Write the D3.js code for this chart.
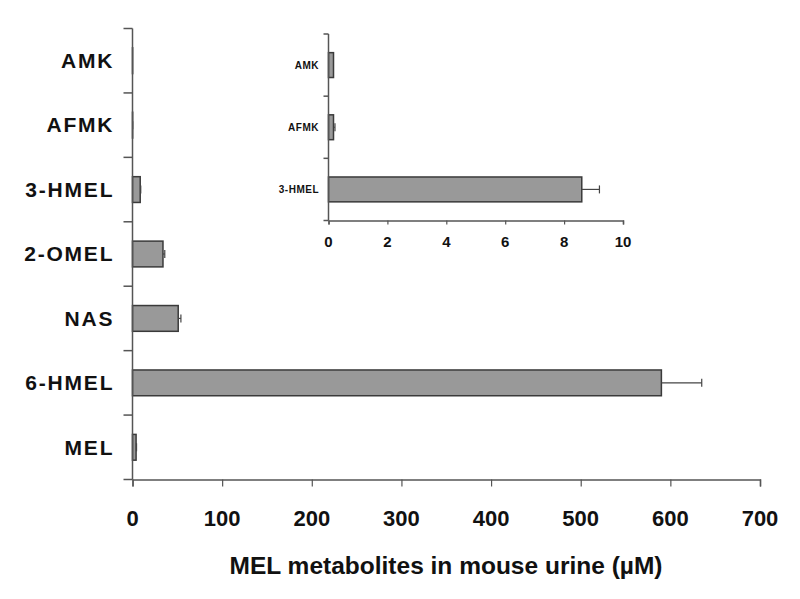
<!DOCTYPE html>
<html>
<head>
<meta charset="utf-8">
<script src="https://cdn.jsdelivr.net/npm/d3@7"></script>
<style>
  body { margin: 0; background: #fff; }
  svg { display: block; font-family: 'Liberation Sans', Arial, sans-serif; }
</style>
</head>
<body>
<div id="chart"></div>
<script>
// Main chart data (top to bottom)
const categories = ['AMK', 'AFMK', '3-HMEL', '2-OMEL', 'NAS', '6-HMEL', 'MEL']
const values = [0.17, 0.17, 8.6, 34, 51, 590, 4]
const errors = [0, 0.05, 0.6, 2, 3, 45, 0.5]
const xTicks = [0, 100, 200, 300, 400, 500, 600, 700]

// Inset data
const insetCategories = ['AMK', 'AFMK', '3-HMEL']
const insetValues = [0.17, 0.17, 8.6]
const insetErrors = [0, 0.05, 0.6]
const insetTicks = [0, 2, 4, 6, 8, 10]

const width = 800
const height = 599
const axisColor = '#555'
const barFill = '#999'
const barStroke = '#3a3a3a'

const svg = d3.select('#chart')
  .append('svg')
  .attr('width', width)
  .attr('height', height)

function drawPanel(opts) {
  const { cats, vals, errs, ticks, x, top, bottom, labelSize, labelSpacing, tickLabelSize, labelGap, tickLabelY, sepTick } = opts
  const g = svg.append('g')

  const y = d3.scaleBand()
    .domain(cats)
    .range([top, bottom])
    .paddingInner(0.6)
    .paddingOuter(0.3)

  const step = y.step()
  const x0 = x(0)

  // Separator ticks on the category axis
  const seps = d3.range(cats.length + 1).map(i => top + i * step)
  g.selectAll('line.sep')
    .data(seps)
    .enter()
    .append('line')
    .attr('x1', x0 - sepTick)
    .attr('x2', x0)
    .attr('y1', d => d)
    .attr('y2', d => d)
    .attr('stroke', axisColor)
    .attr('stroke-width', 1.5)

  // Bars
  g.selectAll('rect.bar')
    .data(cats)
    .enter()
    .append('rect')
    .attr('x', x0)
    .attr('y', d => y(d))
    .attr('width', (d, i) => Math.max(x(vals[i]) - x0, 0))
    .attr('height', y.bandwidth())
    .attr('fill', barFill)
    .attr('stroke', barStroke)
    .attr('stroke-width', 1.5)

  // Error bars
  cats.forEach((c, i) => {
    if (!errs[i]) return
    const cy = y(c) + y.bandwidth() / 2
    const xe = x(vals[i] + errs[i])
    g.append('line')
      .attr('x1', x(vals[i])).attr('x2', xe)
      .attr('y1', cy).attr('y2', cy)
      .attr('stroke', '#444').attr('stroke-width', 1.2)
    g.append('line')
      .attr('x1', xe).attr('x2', xe)
      .attr('y1', cy - 4).attr('y2', cy + 4)
      .attr('stroke', '#444').attr('stroke-width', 1.2)
  })

  // Category axis line
  g.append('line')
    .attr('x1', x0).attr('x2', x0)
    .attr('y1', top).attr('y2', bottom)
    .attr('stroke', axisColor)
    .attr('stroke-width', 1.5)

  // Category labels
  g.selectAll('text.cat')
    .data(cats)
    .enter()
    .append('text')
    .attr('x', x0 - labelGap + labelSpacing)
    .attr('y', d => y(d) + y.bandwidth() / 2)
    .attr('dy', '0.35em')
    .attr('text-anchor', 'end')
    .attr('font-weight', 'bold')
    .attr('font-size', labelSize)
    .attr('letter-spacing', labelSpacing)
    .attr('fill', '#111')
    .text(d => d)

  // Value axis
  g.append('g')
    .attr('transform', `translate(0,${bottom})`)
    .call(d3.axisBottom(x).tickValues(ticks).tickSize(opts.valTick).tickFormat(''))
    .call(a => a.select('.domain').attr('stroke', axisColor).attr('stroke-width', 1.5))
    .call(a => a.selectAll('.tick line').attr('stroke', axisColor).attr('stroke-width', 1.2))

  g.selectAll('text.val')
    .data(ticks)
    .enter()
    .append('text')
    .attr('x', d => x(d))
    .attr('y', tickLabelY)
    .attr('dy', '0.35em')
    .attr('text-anchor', 'middle')
    .attr('font-weight', 'bold')
    .attr('font-size', tickLabelSize)
    .attr('fill', '#111')
    .text(d => d)

  return g
}

// Main panel
const x = d3.scaleLinear().domain([0, 700]).range([132.5, 760])
drawPanel({
  cats: categories, vals: values, errs: errors, ticks: xTicks, x,
  top: 28.5, bottom: 479.5,
  labelSize: 21, labelSpacing: 1.8, tickLabelSize: 22, labelGap: 20, tickLabelY: 518,
  sepTick: 9, valTick: 7
})

svg.append('text')
  .attr('x', 446)
  .attr('y', 565)
  .attr('dy', '0.35em')
  .attr('text-anchor', 'middle')
  .attr('font-weight', 'bold')
  .attr('font-size', 24.5)
  .attr('fill', '#111')
  .text('MEL metabolites in mouse urine (µM)')

// Inset panel
const xi = d3.scaleLinear().domain([0, 10]).range([328.5, 623])
drawPanel({
  cats: insetCategories, vals: insetValues, errs: insetErrors, ticks: insetTicks, x: xi,
  top: 34, bottom: 220.5,
  labelSize: 10, labelSpacing: 0.5, tickLabelSize: 15, labelGap: 10, tickLabelY: 242,
  sepTick: 5, valTick: 4
})
</script>
</body>
</html>
